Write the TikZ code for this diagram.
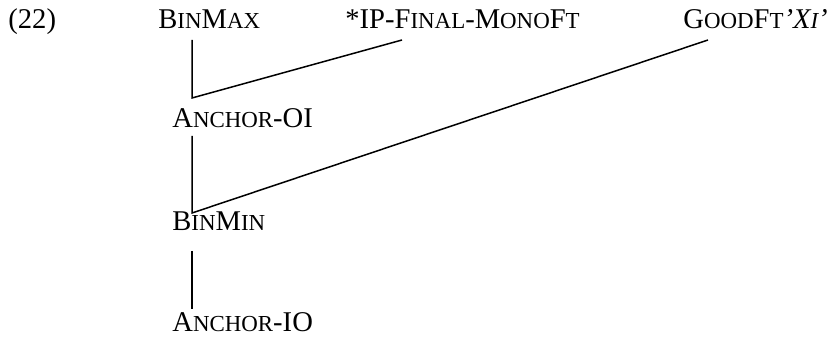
\documentclass[tikz,border=0pt]{standalone}
\usepackage{fontspec}
\setmainfont{Liberation Serif}
\newcommand{\smc}[1]{{\fontsize{11.45}{12}\selectfont #1}}
\begin{document}
\begin{tikzpicture}[x=0.5pt,y=-0.5pt,
  lbl/.style={inner sep=0pt,anchor=base west,font=\fontsize{14.3}{16}\selectfont},
  link/.style={line width=0.75pt,line join=miter}]
\useasboundingbox (0,0) rectangle (829,340);
% ranking labels
\node[lbl] (ex)     at (8,29)    {(22)};
\node[lbl] (binmax) at (158,29)  {B\smc{IN}M\smc{AX}};
\node[lbl] (ipfin)  at (345,29)  {*IP-F\smc{INAL}-M\smc{ONO}F\smc{T}};
\node[lbl] (goodft) at (683,29)  {G\smc{OOD}F\smc{T}\textit{'X\smc{I}'}};
\node[lbl] (anchoi) at (172,128) {A\smc{NCHOR}-OI};
\node[lbl] (binmin) at (172,231) {B\smc{IN}M\smc{IN}};
\node[lbl] (anchio) at (172,332) {A\smc{NCHOR}-IO};
% line end points
\coordinate (bmxTop) at (192,40);
\coordinate (oiTop)  at (192,98);
\coordinate (ipEnd)  at (402,40);
\coordinate (oiBot)  at (192,136);
\coordinate (minTop) at (192,213);
\coordinate (gfEnd)  at (708,40);
\coordinate (minBot) at (192,251);
\coordinate (ioTop)  at (192,309);
% domination links
\draw[link] (bmxTop) -- (oiTop) -- (ipEnd);
\draw[link] (oiBot) -- (minTop) -- (gfEnd);
\draw[link] (minBot) -- (ioTop);
\end{tikzpicture}
\end{document}
